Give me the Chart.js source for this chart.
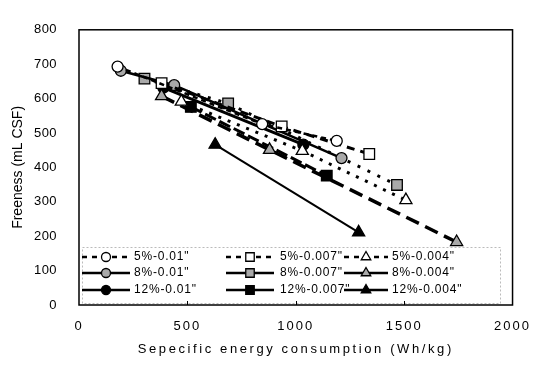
<!DOCTYPE html>
<html>
<head>
<meta charset="utf-8">
<script src="https://cdn.jsdelivr.net/npm/chart.js@4.4.1/dist/chart.umd.min.js"></script>
<style>
    html, body { margin: 0; padding: 0; background: #fff; }
    #wrap { width: 541px; height: 365px; }
</style>
</head>
<body>
<div id="wrap"><canvas id="chart" width="541" height="365"></canvas></div>
<script>
// Freeness vs specific energy, grouped by consistency (5/8/12 %) and plate gap
const seriesNames = ['5%-0.01"', '5%-0.007"', '5%-0.004"',
                     '8%-0.01"', '8%-0.007"', '8%-0.004"',
                     '12%-0.01"', '12%-0.007"', '12%-0.004"'];

const energy5_010 = [178, 845, 1189];
const free5_010 = [693, 526, 477];
const energy5_007 = [381, 935, 1339];
const free5_007 = [645, 519, 439];
const energy5_004 = [472, 1030, 1508];
const free5_004 = [591, 448, 305];

const energy8_010 = [193, 439, 1211];
const free8_010 = [681, 639, 427];
const energy8_007 = [302, 688, 1467];
const free8_007 = [658, 586, 349];
const energy8_004 = [381, 879, 1742];
const free8_004 = [607, 451, 183];

const energy12_010 = [389, 1035];
const free12_010 = [632, 466];
const energy12_007 = [516, 1143];
const free12_007 = [576, 376];
const energy12_004 = [628, 1290];
const free12_004 = [466, 211];

const xTicks = [0, 500, 1000, 1500, 2000];
const yTicks = [0, 100, 200, 300, 400, 500, 600, 700, 800];

function pts(xs, ys) {
    return xs.map(function(x, i) { return { x: x, y: ys[i] }; });
}

const GRAY = '#a9a9a9';

function series(idx, xs, ys, style, fill, dash, width, legendDash) {
    const isTri = style === 'triangle';
    const isRect = style === 'rect';
    return {
        label: seriesNames[idx],
        data: pts(xs, ys),
        showLine: true,
        borderColor: '#000',
        borderWidth: width,
        borderDash: dash,
        pointStyle: style,
        pointRadius: isTri ? 7 : (isRect ? 7.5 : 5.5),
        pointBackgroundColor: fill,
        pointBorderColor: '#000',
        pointBorderWidth: 1.3,
        legendDash: legendDash
    };
}

const datasets = [
    series(0, energy5_010, free5_010, 'circle', '#fff', [5, 4], 2.5, [5, 5]),
    series(1, energy5_007, free5_007, 'rect', '#fff', [8, 6], 3, [5, 5]),
    series(2, energy5_004, free5_004, 'triangle', '#fff', [3, 7], 3, [5, 5]),
    series(3, energy8_010, free8_010, 'circle', GRAY, [], 2.5, []),
    series(4, energy8_007, free8_007, 'rect', GRAY, [3, 8], 3, []),
    series(5, energy8_004, free8_004, 'triangle', GRAY, [14, 7], 3.5, []),
    series(6, energy12_010, free12_010, 'circle', '#000', [], 3, []),
    series(7, energy12_007, free12_007, 'rect', '#000', [12, 4], 3, []),
    series(8, energy12_004, free12_004, 'triangle', '#000', [], 2, [])
];

// linear scale whose labels and title can be letter-spaced
class SpacedScale extends Chart.LinearScale {
    drawLabels(area) {
        const c = this.ctx;
        c.save();
        c.letterSpacing = (this.options.labelSpacing || 0) + 'px';
        super.drawLabels(area);
        c.restore();
    }
    drawTitle() {
        const c = this.ctx;
        c.save();
        c.letterSpacing = (this.options.titleSpacing || 0) + 'px';
        super.drawTitle();
        c.restore();
    }
}
SpacedScale.id = 'spacedLinear';
SpacedScale.defaults = Chart.LinearScale.defaults;
Chart.register(SpacedScale);

// frame round the plot area plus short inward ticks on the x axis
const framePlugin = {
    id: 'frame',
    afterDraw(chart) {
        const ctx = chart.ctx;
        const a = chart.chartArea;
        const xs = chart.scales.x;
        ctx.save();
        ctx.strokeStyle = '#000';
        ctx.lineWidth = 1.5;
        ctx.strokeRect(a.left, a.top, a.right - a.left, a.bottom - a.top);
        ctx.lineWidth = 1;
        xTicks.slice(1, -1).forEach(function(v) {
            const px = Math.round(xs.getPixelForValue(v)) + 0.5;
            ctx.beginPath();
            ctx.moveTo(px, a.bottom);
            ctx.lineTo(px, a.bottom - 4);
            ctx.stroke();
        });
        ctx.restore();
    }
};

// legend box sitting inside the bottom of the plot, 3 x 3 grid
const boxLegend = {
    id: 'boxLegend',
    afterDatasetsDraw(chart) {
        const ctx = chart.ctx;
        const box = { left: 82, top: 247, right: 500, bottom: 303 };
        const sampleX = [82, 226, 344];
        const sampleLen = [48, 48, 44];
        const textX = [134, 280, 392];
        const rowY = [257, 273, 290];
        ctx.save();
        ctx.fillStyle = '#fff';
        ctx.fillRect(box.left, box.top, box.right - box.left, box.bottom - box.top);
        ctx.strokeStyle = '#bbb';
        ctx.lineWidth = 1;
        ctx.setLineDash([2, 2]);
        ctx.strokeRect(box.left + 0.5, box.top + 0.5, box.right - box.left, box.bottom - box.top);

        chart.data.datasets.forEach(function(ds, i) {
            const row = Math.floor(i / 3);
            const col = i % 3;
            const y = rowY[row];
            const x0 = sampleX[col];
            const len = sampleLen[col];
            ctx.strokeStyle = '#000';
            ctx.lineWidth = 2.5;
            ctx.setLineDash(ds.legendDash);
            ctx.beginPath();
            ctx.moveTo(x0, y);
            ctx.lineTo(x0 + len, y);
            ctx.stroke();
            ctx.setLineDash([]);
            ctx.fillStyle = ds.pointBackgroundColor;
            ctx.strokeStyle = '#000';
            ctx.lineWidth = 1.3;
            Chart.helpers.drawPoint(ctx, {
                pointStyle: ds.pointStyle,
                radius: ds.pointStyle === 'triangle' ? 5.5 : (ds.pointStyle === 'rect' ? 6 : 4.5),
                rotation: 0,
                borderWidth: 1.3
            }, x0 + len / 2, y);
            ctx.fillStyle = '#000';
            ctx.font = '12px "Liberation Sans", Arial, sans-serif';
            ctx.letterSpacing = '0.8px';
            ctx.textBaseline = 'middle';
            ctx.textAlign = 'left';
            ctx.fillText(ds.label, textX[col], y);
            ctx.letterSpacing = '0px';
        });
        ctx.restore();
    }
};

const fontFamily = '"Liberation Sans", Arial, sans-serif';

new Chart(document.getElementById('chart').getContext('2d'), {
    type: 'scatter',
    data: { datasets: datasets },
    options: {
        responsive: false,
        animation: false,
        devicePixelRatio: 1,
        layout: { padding: { top: 18, right: 20, left: 0, bottom: 0 } },
        plugins: {
            legend: { display: false },
            tooltip: { enabled: false }
        },
        scales: {
            x: {
                type: 'spacedLinear',
                min: 0,
                max: 2000,
                afterBuildTicks: function(s) { s.ticks = xTicks.map(function(v) { return { value: v }; }); },
                afterFit: function(s) { s.height = 60; },
                grid: { display: false, drawTicks: false },
                border: { display: false },
                labelSpacing: 2,
                titleSpacing: 2.6,
                ticks: {
                    color: '#000',
                    padding: 14,
                    maxRotation: 0,
                    font: { family: fontFamily, size: 13 },
                    callback: function(v) { return String(v); }
                },
                title: {
                    display: true,
                    text: 'Sepecific energy consumption (Wh/kg)',
                    color: '#000',
                    padding: { top: 0, bottom: 8 },
                    font: { family: fontFamily, size: 13 }
                }
            },
            y: {
                type: 'spacedLinear',
                min: 0,
                max: 800,
                afterBuildTicks: function(s) { s.ticks = yTicks.map(function(v) { return { value: v }; }); },
                afterFit: function(s) { s.width = 79; },
                grid: { display: false, drawTicks: false },
                border: { display: false },
                labelSpacing: 0.4,
                ticks: {
                    color: '#000',
                    padding: 22,
                    font: { family: fontFamily, size: 13 },
                    callback: function(v) { return String(v); }
                },
                title: {
                    display: true,
                    text: 'Freeness (mL CSF)',
                    color: '#000',
                    padding: { top: 10, bottom: 0 },
                    font: { family: fontFamily, size: 14 }
                }
            }
        }
    },
    plugins: [framePlugin, boxLegend]
});
</script>
</body>
</html>
